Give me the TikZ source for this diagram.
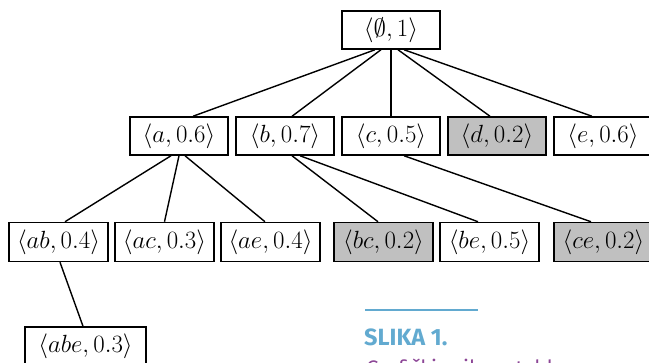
\documentclass[tikz,border=0pt]{standalone}
\usepackage{amssymb}
\usepackage{fontspec}
\newfontfamily\capfont{Fira Sans}
\definecolor{boxgray}{RGB}{192,192,192}
\definecolor{capblue}{RGB}{98,170,208}
\definecolor{cappurple}{RGB}{140,70,150}
\begin{document}
\begin{tikzpicture}[x=1pt,y=-1pt,
  itembox/.style={draw=black,line width=1.5pt,fill=white,minimum width=98pt,minimum height=38pt,inner sep=0pt,font=\fontsize{26}{30}\selectfont},
  widebox/.style={itembox,minimum width=99pt,minimum height=39pt},
  grayfill/.style={fill=boxgray},
  edge/.style={draw=black,line width=1.4pt}]
\useasboundingbox (0,0) rectangle (649,363);
% level 0
\node[itembox] (root) at (391,30) {$\langle\emptyset,1\rangle$};
% level 1
\node[itembox] (a) at (179,136) {$\langle a,0.6\rangle$};
\node[itembox] (b) at (285,136) {$\langle b,0.7\rangle$};
\node[itembox] (c) at (391,136) {$\langle c,0.5\rangle$};
\node[itembox,grayfill] (d) at (497,136) {$\langle d,0.2\rangle$};
\node[itembox] (e) at (603,136) {$\langle e,0.6\rangle$};
% level 2
\node[widebox] (ab) at (58.5,242) {$\langle ab,0.4\rangle$};
\node[widebox] (ac) at (164.5,242) {$\langle ac,0.3\rangle$};
\node[widebox] (ae) at (270.5,242) {$\langle ae,0.4\rangle$};
\node[widebox,grayfill] (bc) at (383.5,242) {$\langle bc,0.2\rangle$};
\node[widebox] (be) at (489.5,242) {$\langle be,0.5\rangle$};
\node[widebox,grayfill] (ce) at (603.5,242) {$\langle ce,0.2\rangle$};
% level 3
\node[widebox,minimum width=121pt] (abe) at (85.5,346.5) {$\langle abe,0.3\rangle$};
% edges
\draw[edge] ([xshift=-16pt]root.south) -- ([xshift=14pt]a.north);
\draw[edge] ([xshift=-10pt]root.south) -- ([xshift=7pt]b.north);
\draw[edge] (root.south) -- (c.north);
\draw[edge] ([xshift=7pt]root.south) -- ([xshift=-7pt]d.north);
\draw[edge] ([xshift=13pt]root.south) -- ([xshift=-11pt]e.north);
\draw[edge] ([xshift=-8pt]a.south) -- ([xshift=6.5pt]ab.north);
\draw[edge] (a.south) -- (ac.north);
\draw[edge] ([xshift=6pt]a.south) -- ([xshift=-5.5pt]ae.north);
\draw[edge] ([xshift=7pt]b.south) -- ([xshift=-5.5pt]bc.north);
\draw[edge] ([xshift=15pt]b.south) -- ([xshift=-11.5pt]be.north);
\draw[edge] ([xshift=13pt]c.south) -- ([xshift=-12.5pt]ce.north);
\draw[edge] ([xshift=1.5pt]ab.south) -- ([xshift=-2.5pt]abe.north);
% caption
\coordinate (rulestart) at (365,310);
\coordinate (ruleend) at (478,310);
\draw[capblue,line width=1.5pt] (rulestart) -- (ruleend);
\node[anchor=base west,inner sep=0pt,text=capblue,font=\capfont\bfseries\fontsize{23.5}{28}\selectfont] (caphead) at (364,345.5) {SLIKA 1.};
\node[anchor=base west,inner sep=0pt,text=cappurple,font=\capfont\fontsize{21}{25}\selectfont] (captext) at (366,376) {Grafički prikaz stabla};
\end{tikzpicture}
\end{document}
